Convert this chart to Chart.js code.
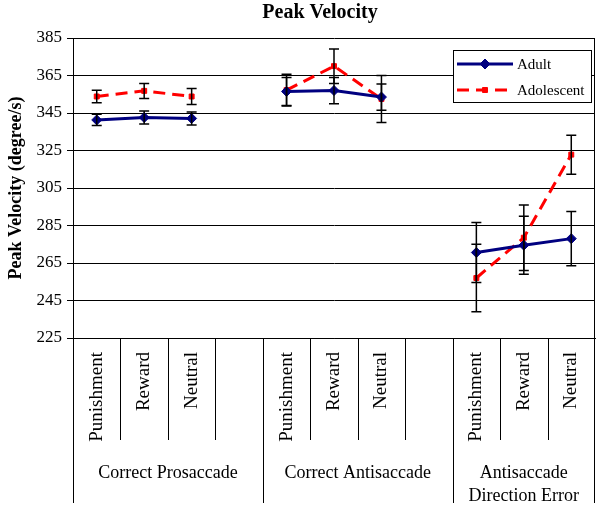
<!DOCTYPE html>
<html>
<head>
<meta charset="utf-8">
<script src="https://cdn.jsdelivr.net/npm/chart.js@4.4.0/dist/chart.umd.min.js"></script>
<style>
  body { margin: 0; background: #fff; }
  #wrap { width: 601px; height: 507px; }
</style>
</head>
<body>
<div id="wrap"><canvas id="peakChart" width="601" height="507"></canvas></div>
<script>
// ── data ─────────────────────────────────────
const categories = ['Punishment','Reward','Neutral','', 'Punishment','Reward','Neutral','', 'Punishment','Reward','Neutral'];
const groupLabels = [['Correct Prosaccade'], ['Correct Antisaccade'], ['Antisaccade','Direction Error']];
const groupSizes  = [4, 4, 3];

const adult         = [341.3, 342.6, 342.1, null, 356.5, 357.0, 353.5, null, 270.6, 274.5, 278.0];
const adultErr      = [3.0, 3.5, 3.5, null, 7.5, 7.0, 7.0, null, 16.0, 15.5, 14.5];
const adolescent    = [353.8, 356.8, 353.8, null, 357.2, 370.0, 352.5, null, 257.0, 278.5, 322.8];
const adolescentErr = [3.3, 4.0, 4.3, null, 8.5, 9.2, 12.5, null, 18.0, 17.5, 10.4];

const yTicks = { min: 225, max: 385, step: 20 };
const chartTitle = 'Peak Velocity';
const yTitle = 'Peak Velocity (degree/s)';

const SERIF = "'Liberation Serif', 'Times New Roman', serif";

// ── plugins ──────────────────────────────────
const errorBars = {
  id: 'errorBars',
  afterDatasetsDraw(chart) {
    const ctx = chart.ctx, ys = chart.scales.y;
    ctx.save();
    ctx.strokeStyle = '#000';
    ctx.lineWidth = 1.5;
    chart.data.datasets.forEach((ds, di) => {
      const meta = chart.getDatasetMeta(di);
      ds.errors.forEach((e, i) => {
        const v = ds.data[i];
        if (v == null || e == null) return;
        const x = meta.data[i].x;
        const t = ys.getPixelForValue(v + e), b = ys.getPixelForValue(v - e);
        ctx.beginPath();
        ctx.moveTo(x, t); ctx.lineTo(x, b);
        ctx.moveTo(x-5, t); ctx.lineTo(x+5, t);
        ctx.moveTo(x-5, b); ctx.lineTo(x+5, b);
        ctx.stroke();
      });
    });
    ctx.restore();
  }
};

const frame = {
  id: 'frame',
  afterDraw(chart) {
    const ctx = chart.ctx, a = chart.chartArea, xs = chart.scales.x;
    const bottom = chart.height - 4;
    ctx.save();
    ctx.strokeStyle = '#000';
    ctx.lineWidth = 1;
    // left & right edges run down through the label area
    ctx.beginPath();
    ctx.moveTo(a.left + 0.5, a.bottom); ctx.lineTo(a.left + 0.5, bottom);
    ctx.moveTo(a.right - 0.5, a.top); ctx.lineTo(a.right - 0.5, bottom);
    ctx.stroke();

    // category separators, longer at group boundaries
    const majors = [];
    let acc = 0;
    groupSizes.forEach(n => { acc += n; majors.push(acc); });
    for (let i = 1; i < categories.length; i++) {
      const x = Math.round((xs.getPixelForValue(i-1) + xs.getPixelForValue(i)) / 2) + 0.5;
      ctx.beginPath();
      ctx.moveTo(x, a.bottom);
      ctx.lineTo(x, majors.includes(i) ? bottom : a.bottom + 102);
      ctx.stroke();
    }

    // group labels
    ctx.fillStyle = '#000';
    ctx.font = `18px ${SERIF}`;
    ctx.textAlign = 'center';
    ctx.textBaseline = 'middle';
    let start = 0;
    groupLabels.forEach((lines, g) => {
      const end = start + groupSizes[g];
      const x0 = start === 0 ? a.left : (xs.getPixelForValue(start-1) + xs.getPixelForValue(start)) / 2;
      const x1 = end >= categories.length ? a.right : (xs.getPixelForValue(end-1) + xs.getPixelForValue(end)) / 2;
      lines.forEach((txt, k) => ctx.fillText(txt, (x0 + x1) / 2, a.bottom + 135 + k * 23));
      start = end;
    });

    // title
    ctx.font = `bold 20px ${SERIF}`;
    ctx.fillText(chartTitle, (a.left + a.right) / 2 - 14, 13);

    // legend
    const bw = 138, bh = 52;
    const bx = a.right - bw - 4, by = a.top + 12;
    ctx.fillStyle = '#fff';
    ctx.fillRect(bx, by, bw, bh);
    ctx.strokeRect(bx + 0.5, by + 0.5, bw, bh);
    chart.data.datasets.forEach((ds, i) => {
      const y = by + 14 + i * 26;
      ctx.save();
      ctx.strokeStyle = ds.borderColor;
      ctx.lineWidth = 3;
      ctx.setLineDash(ds.borderDash || []);
      ctx.beginPath();
      ctx.moveTo(bx + 4, y); ctx.lineTo(bx + 60, y);
      ctx.stroke();
      ctx.setLineDash([]);
      ctx.fillStyle = ds.backgroundColor;
      ctx.lineWidth = 1;
      Chart.helpers.drawPoint(ctx, {
        pointStyle: ds.pointStyle, radius: ds.pointRadius, borderWidth: 1
      }, bx + 32, y);
      ctx.restore();
      ctx.fillStyle = '#000';
      ctx.font = `15px ${SERIF}`;
      ctx.textAlign = 'left';
      ctx.fillText(ds.label, bx + 64, y + 1);
    });
    ctx.restore();
  }
};

// ── chart ────────────────────────────────────
new Chart(document.getElementById('peakChart'), {
  type: 'line',
  data: {
    labels: categories,
    datasets: [
      {
        label: 'Adult', data: adult, errors: adultErr,
        borderColor: '#000080', backgroundColor: '#000080',
        borderWidth: 3, pointStyle: 'rectRot', pointRadius: 5,
        pointBorderWidth: 1, spanGaps: false, tension: 0
      },
      {
        label: 'Adolescent', data: adolescent, errors: adolescentErr,
        borderColor: '#ff0000', backgroundColor: '#ff0000',
        borderWidth: 3, borderDash: [12, 7], pointStyle: 'rect', pointRadius: 3.5,
        pointBorderWidth: 1, spanGaps: false, tension: 0
      }
    ]
  },
  options: {
    responsive: false,
    animation: false,
    layout: { padding: { top: 38, right: 3, left: 0, bottom: 0 } },
    plugins: { legend: { display: false }, title: { display: false }, tooltip: { enabled: false } },
    scales: {
      x: {
        type: 'category', offset: true,
        grid: { drawOnChartArea: false, drawTicks: false },
        border: { color: '#000', width: 1 },
        ticks: {
          autoSkip: false, maxRotation: 90, minRotation: 90, padding: 14,
          color: '#000', font: { family: SERIF, size: 19 }
        },
        afterFit(s) { s.height = 169; s.paddingLeft = 0; s.paddingRight = 0; }
      },
      y: {
        min: yTicks.min, max: yTicks.max,
        grid: { color: '#000', lineWidth: 1, tickLength: 6 },
        border: { color: '#000', width: 1 },
        ticks: { stepSize: yTicks.step, padding: 5, color: '#000', font: { family: SERIF, size: 17 } },
        title: {
          display: true, text: yTitle, color: '#000',
          font: { family: SERIF, size: 18, weight: 'bold' }, padding: { top: 6, bottom: 0 }
        },
        afterFit(s) { s.width = 73; }
      }
    }
  },
  plugins: [errorBars, frame]
});
</script>
</body>
</html>
